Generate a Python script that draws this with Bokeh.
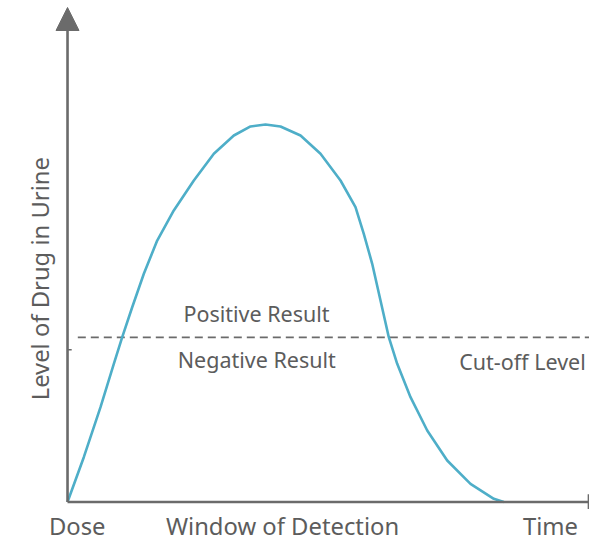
import math
from bokeh.plotting import figure
from bokeh.models import Range1d, Label, Arrow, NormalHead
from bokeh.embed import file_html
from bokeh.resources import INLINE

# Drug level curve (time units, level units)
time_vals = [0, 3.12, 6.32, 8.87, 10.48, 12.39, 14.62, 17.18, 20.36, 24.20,
             28.03, 31.86, 35.06, 37.93, 40.80, 44.64, 48.47, 52.30, 55.17,
             56.76, 58.37, 59.96, 61.55, 63.16, 65.71, 68.91, 72.74, 77.20,
             81.67, 83.58]
level_vals = [0, 9.09, 19.23, 28.03, 33.43, 39.51, 46.29, 53.04, 59.13, 65.21,
              70.63, 74.34, 76.17, 76.57, 76.17, 74.34, 70.63, 65.21, 59.80,
              54.40, 48.32, 40.87, 33.43, 28.03, 21.26, 14.50, 8.42, 3.69,
              0.65, 0]
cutoff_level = 33.4
cutoff_tick = 30.87
x_labels = ["Dose", "Window of Detection", "Time"]
x_label_pos = [1.85, 41.19, 92.53]

AXIS = "#6b6b6b"
TEXT = "#5c5c5c"
CURVE = "#4eaec8"
FONT = "Noto Sans"
FS = "21.5px"
FS_AXIS = "23.8px"

p = figure(width=589, height=542, output_backend="svg", toolbar_location=None,
           x_range=Range1d(-12.84, 100.0), y_range=Range1d(-8.21, 101.72),
           min_border_left=0, min_border_right=0, min_border_top=0,
           min_border_bottom=0)
p.xaxis.visible = False
p.yaxis.visible = False
p.grid.visible = False
p.outline_line_color = None
p.background_fill_color = "white"

# cut-off dashed line
p.line([1.97, 100.0], [cutoff_level, cutoff_level], line_color=AXIS,
       line_width=1.6, line_dash="8 5")

# curve
p.line(time_vals, level_vals, line_color=CURVE, line_width=2.6)

# x axis
p.line([0, 99.8], [0, 0], line_color=AXIS, line_width=2.6)
p.line([99.8, 99.8], [-1.4, 1.6], line_color=AXIS, line_width=1.6)
# y tick
p.line([0, 0.8], [cutoff_tick, cutoff_tick], line_color=AXIS, line_width=1.6)
# y axis with arrow
p.add_layout(Arrow(x_start=0, y_start=0, x_end=0, y_end=100.3,
                   line_color=AXIS, line_width=2.6,
                   end=NormalHead(size=23, fill_color=AXIS, line_color=AXIS)))

def lab(x, y, t, fs=FS, **kw):
    p.add_layout(Label(x=x, y=y, text=t, text_font=FONT, text_font_size=fs,
                       text_color=TEXT, text_align="center",
                       text_baseline="alphabetic", **kw))

lab(36.2, 38.19, "Positive Result")
lab(36.26, 28.94, "Negative Result")
lab(87.16, 28.60, "Cut-off Level")
for t, xp in zip(x_labels, x_label_pos):
    lab(xp, -4.77, t, fs=FS_AXIS)
p.add_layout(Label(x=-5.2, y=45.3, text="Level of Drug in Urine", angle=math.pi / 2,
                   text_font=FONT, text_font_size=FS_AXIS, text_color=TEXT,
                   text_align="center", text_baseline="middle"))

open("out.html", "w").write(file_html(p, INLINE))
